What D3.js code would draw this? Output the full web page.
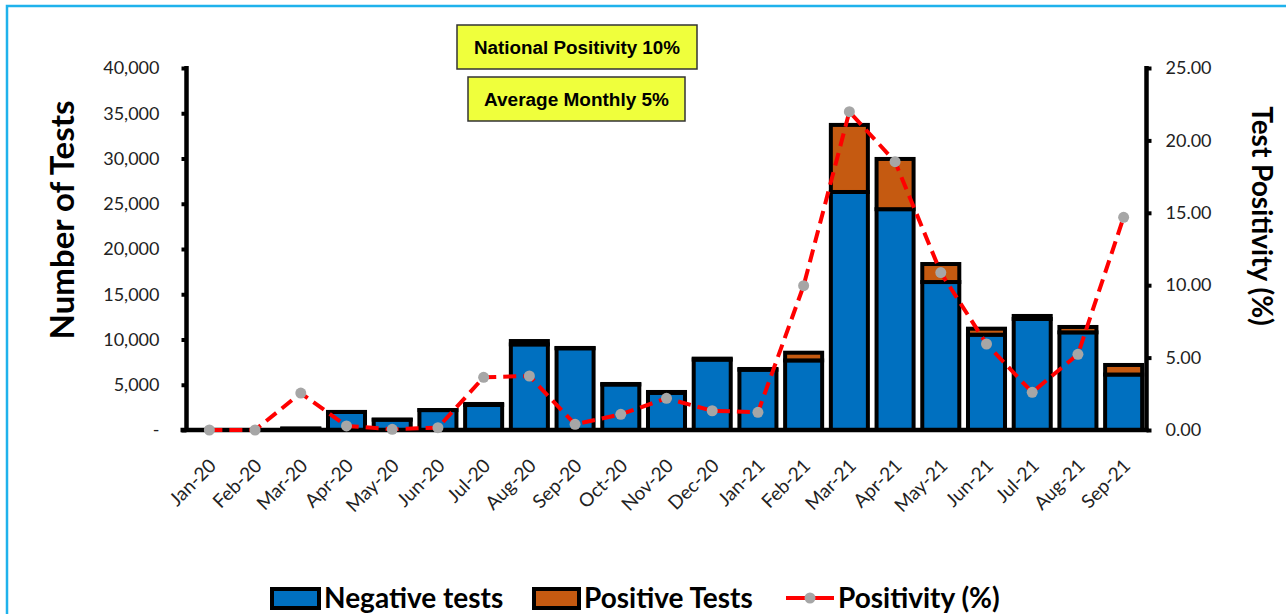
<!DOCTYPE html>
<html>
<head>
<meta charset="utf-8">
<script src="https://cdn.jsdelivr.net/npm/d3@7/dist/d3.min.js"></script>
<style>
	html, body { margin: 0; padding: 0; background: #fff; }
	svg { display: block; }
	.tick-label { font-family: Lato, "Open Sans", sans-serif; font-size: 18px; fill: #222; }
	.title { font-family: Lato, "Open Sans", sans-serif; font-weight: bold; fill: #000; }
	.legend-label { font-family: Lato, "Open Sans", sans-serif; font-weight: bold; font-size: 28px; fill: #000; }
	.note { font-family: "Liberation Sans", Arial, sans-serif; font-weight: bold; font-size: 18px; fill: #000; }
</style>
</head>
<body>
<svg id="chart" width="1286" height="614"></svg>
<script>
// monthly testing data
const months = ["Jan-20", "Feb-20", "Mar-20", "Apr-20", "May-20", "Jun-20", "Jul-20", "Aug-20", "Sep-20", "Oct-20", "Nov-20", "Dec-20",
	"Jan-21", "Feb-21", "Mar-21", "Apr-21", "May-21", "Jun-21", "Jul-21", "Aug-21", "Sep-21"];
const negativeTests = [0, 0, 150, 1990, 1140, 2200, 2770, 9460, 9030, 5030, 4110, 7780,
	6660, 7690, 26300, 24400, 16350, 10530, 12270, 10790, 6130];
const positiveTests = [0, 0, 4, 6, 1, 4, 105, 370, 35, 55, 92, 105,
	82, 850, 7410, 5550, 1990, 665, 330, 595, 1055];
const positivity = [0.0, 0.0, 2.55, 0.28, 0.05, 0.16, 3.64, 3.73, 0.39, 1.08, 2.19, 1.33,
	1.22, 9.97, 21.98, 18.53, 10.87, 5.94, 2.6, 5.23, 14.69];

const leftTicks = [0, 5000, 10000, 15000, 20000, 25000, 30000, 35000, 40000];
const rightTicks = [0, 5, 10, 15, 20, 25];
const notes = ["National Positivity 10%", "Average Monthly 5%"];
const legendItems = ["Negative tests", "Positive Tests", "Positivity (%)"];

const colors = { negative: "#0070c0", positive: "#c55a11", line: "#ff0000", marker: "#a6a6a6" };

const svg = d3.select("#chart");

// light blue frame round the whole chart
svg.append("rect")
	.attr("x", 7).attr("y", 6)
	.attr("width", 1300).attr("height", 640)
	.attr("fill", "none")
	.attr("stroke", "#1fb2ec")
	.attr("stroke-width", 2.5);

const plot = { left: 186.5, right: 1146.5, top: 68, bottom: 430 };

const x = d3.scaleBand()
	.domain(months)
	.range([plot.left, plot.right])
	.padding(0);

const yLeft = d3.scaleLinear().domain([0, 40000]).range([plot.bottom, plot.top]);
const yRight = d3.scaleLinear().domain([0, 25]).range([plot.bottom, plot.top]);

const barW = x.bandwidth() * 0.81;

// stacked bars: negative at the bottom, positive on top
const rows = months.map((m, i) => ({ month: m, neg: negativeTests[i], pos: positiveTests[i], pct: positivity[i] }));

const bars = svg.append("g");
bars.selectAll("rect.neg")
	.data(rows)
	.enter()
	.append("rect")
	.attr("class", "neg")
	.attr("x", (d) => x(d.month) + (x.bandwidth() - barW) / 2)
	.attr("y", (d) => yLeft(d.neg))
	.attr("width", barW)
	.attr("height", (d) => yLeft(0) - yLeft(d.neg))
	.attr("fill", colors.negative)
	.attr("stroke", "#000")
	.attr("stroke-width", 4);

bars.selectAll("rect.pos")
	.data(rows)
	.enter()
	.append("rect")
	.attr("class", "pos")
	.attr("x", (d) => x(d.month) + (x.bandwidth() - barW) / 2)
	.attr("y", (d) => yLeft(d.neg + d.pos))
	.attr("width", barW)
	.attr("height", (d) => yLeft(d.neg) - yLeft(d.neg + d.pos))
	.attr("fill", colors.positive)
	.attr("stroke", "#000")
	.attr("stroke-width", 4);

// axes
const leftAxis = d3.axisLeft(yLeft)
	.tickValues(leftTicks)
	.tickSize(5)
	.tickPadding(22)
	.tickFormat((d) => (d === 0 ? "-" : d3.format(",")(d)));

const gLeft = svg.append("g")
	.attr("transform", `translate(${plot.left},0)`)
	.call(leftAxis);

const rightAxis = d3.axisRight(yRight)
	.tickValues(rightTicks)
	.tickSize(5)
	.tickPadding(14)
	.tickFormat(d3.format(".2f"));

const gRight = svg.append("g")
	.attr("transform", `translate(${plot.right},0)`)
	.call(rightAxis);

const bottomAxis = d3.axisBottom(x).tickSize(0).tickPadding(0);
const gBottom = svg.append("g")
	.attr("transform", `translate(0,${plot.bottom})`)
	.call(bottomAxis);

[gLeft, gRight, gBottom].forEach((g) => {
	g.select(".domain").attr("stroke", "#000").attr("stroke-width", 4.5);
	g.selectAll(".tick line").attr("stroke", "#000").attr("stroke-width", 4);
	g.selectAll(".tick text").attr("class", "tick-label").attr("fill", null);
});
gLeft.select(".domain").attr("d", `M0,${plot.top - 2}V${plot.bottom + 2}`);
gRight.select(".domain").attr("d", `M0,${plot.top - 2}V${plot.bottom + 2}`);
gBottom.select(".domain").attr("d", `M${plot.left - 6},0H${plot.right + 2}`);

gBottom.selectAll(".tick text")
	.attr("text-anchor", "end")
	.attr("dy", null)
	.attr("y", null)
	.attr("transform", "translate(8,37) rotate(-45)")
	.style("font-size", "19px");

// positivity line on the right scale
const line = d3.line()
	.x((d) => x(d.month) + x.bandwidth() / 2)
	.y((d) => yRight(d.pct));

svg.append("path")
	.datum(rows)
	.attr("d", line)
	.attr("fill", "none")
	.attr("stroke", colors.line)
	.attr("stroke-width", 4)
	.attr("stroke-dasharray", "13,7");

svg.append("g")
	.selectAll("circle")
	.data(rows)
	.enter()
	.append("circle")
	.attr("cx", (d) => x(d.month) + x.bandwidth() / 2)
	.attr("cy", (d) => yRight(d.pct))
	.attr("r", 5.5)
	.attr("fill", colors.marker);

// axis titles
svg.append("text")
	.attr("class", "title")
	.attr("text-anchor", "middle")
	.attr("transform", "translate(74,220) rotate(-90)")
	.style("font-size", "33px")
	.text("Number of Tests");

svg.append("text")
	.attr("class", "title")
	.attr("text-anchor", "middle")
	.attr("transform", "translate(1252,216) rotate(90)")
	.style("font-size", "28px")
	.text("Test Positivity (%)");

// yellow note boxes
const noteBoxes = [
	{ x: 457, y: 25, w: 240, h: 44, len: 206 },
	{ x: 468, y: 77, w: 217, h: 44, len: 185 }
];
noteBoxes.forEach((b, i) => {
	svg.append("rect")
		.attr("x", b.x).attr("y", b.y)
		.attr("width", b.w).attr("height", b.h)
		.attr("fill", "#efff3c")
		.attr("stroke", "#333")
		.attr("stroke-width", 1.5);
	svg.append("text")
		.attr("class", "note")
		.attr("x", b.x + b.w / 2)
		.attr("y", b.y + b.h / 2 + 6.5)
		.attr("text-anchor", "middle")
		.attr("textLength", b.len)
		.attr("lengthAdjust", "spacingAndGlyphs")
		.text(notes[i]);
});

// legend
const legendY = 598;
const legend = svg.append("g");
legend.append("rect")
	.attr("x", 272).attr("y", legendY - 9)
	.attr("width", 47).attr("height", 19)
	.attr("fill", colors.negative).attr("stroke", "#000").attr("stroke-width", 4);
legend.append("text")
	.attr("class", "legend-label")
	.attr("x", 324).attr("y", legendY + 10)
	.text(legendItems[0]);

legend.append("rect")
	.attr("x", 534).attr("y", legendY - 9)
	.attr("width", 45).attr("height", 19)
	.attr("fill", colors.positive).attr("stroke", "#000").attr("stroke-width", 4);
legend.append("text")
	.attr("class", "legend-label")
	.attr("x", 584).attr("y", legendY + 10)
	.text(legendItems[1]);

legend.append("line")
	.attr("x1", 786).attr("x2", 834)
	.attr("y1", legendY).attr("y2", legendY)
	.attr("stroke", colors.line).attr("stroke-width", 4);
legend.append("circle")
	.attr("cx", 810).attr("cy", legendY).attr("r", 5.5)
	.attr("fill", colors.marker);
legend.append("text")
	.attr("class", "legend-label")
	.attr("x", 838).attr("y", legendY + 10)
	.text(legendItems[2]);
</script>
</body>
</html>
